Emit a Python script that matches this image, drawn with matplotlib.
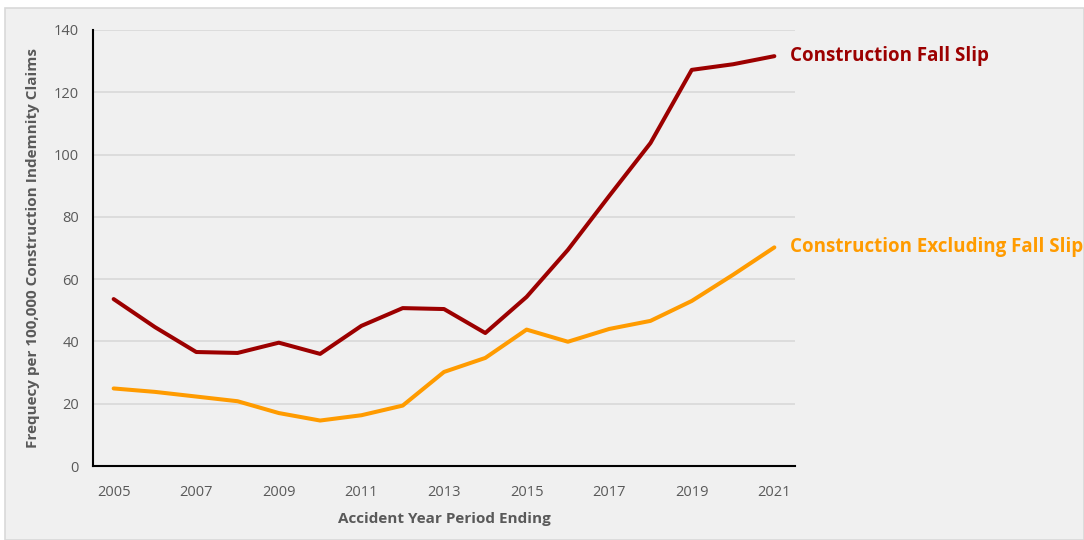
import matplotlib.pyplot as plt
from matplotlib.patches import Rectangle

years = list(range(2005, 2022))
fall_slip = [53.6, 44.6, 36.6, 36.3, 39.6, 36.0, 45.0, 50.7, 50.4, 42.7, 54.3, 69.4,
             86.7, 103.7, 127.2, 129.0, 131.6]
excl_fall_slip = [24.9, 23.8, 22.3, 20.8, 17.0, 14.6, 16.3, 19.4, 30.2, 34.7, 43.8, 39.9,
                  44.0, 46.6, 53.0, 61.4, 70.2]
names = ["Construction Fall Slip", "Construction Excluding Fall Slip"]
colors = ["#9c0000", "#ff9b00"]

plt.rcParams['font.family'] = ['Open Sans', 'DejaVu Sans']

fig = plt.figure(figsize=(10.84, 5.4), dpi=100)
fig.patch.set_facecolor("white")
fig.patches.append(Rectangle((5 / 1084, 0), 1 - 5 / 1084, 1 - 8 / 540, transform=fig.transFigure,
                             facecolor="#f0f0f0", edgecolor="#d9d9d9", linewidth=1.2, zorder=-10))

ax = fig.add_axes([93 / 1084, 74 / 540, 702 / 1084, 436 / 540])
ax.set_facecolor("#f0f0f0")

for vals, name, c in zip([fall_slip, excl_fall_slip], names, colors):
    ax.plot(years, vals, color=c, linewidth=2.9, solid_capstyle="round")
    ax.annotate(name, (years[-1], vals[-1]), xytext=(11, 0), textcoords="offset points",
                color=c, fontsize=13.5, fontweight="bold", va="center", annotation_clip=False)

ax.set_xlim(2004.5, 2021.5)
ax.set_ylim(0, 140)
ax.set_yticks(range(0, 141, 20))
ax.set_xticks(years[::2])
ax.grid(axis="y", color="#d9d9d9", linewidth=1.2)
ax.set_axisbelow(True)
for s in ["top", "right"]:
    ax.spines[s].set_visible(False)
ax.spines["left"].set_color("black")
ax.spines["bottom"].set_color("black")
ax.spines["left"].set_linewidth(1.5)
ax.spines["bottom"].set_linewidth(1.5)
ax.tick_params(axis="y", length=0, labelsize=10.5, labelcolor="#595959", pad=10)
ax.tick_params(axis="x", length=0, labelsize=10.5, labelcolor="#595959", pad=14)

ax.set_xlabel("Accident Year Period Ending", fontsize=11, fontweight="bold", color="#595959", labelpad=8)
ax.set_ylabel("Frequecy per 100,000 Construction Indemnity Claims", fontsize=11, fontweight="bold",
              color="#595959", labelpad=10)

fig.savefig("out.png", dpi=100)
